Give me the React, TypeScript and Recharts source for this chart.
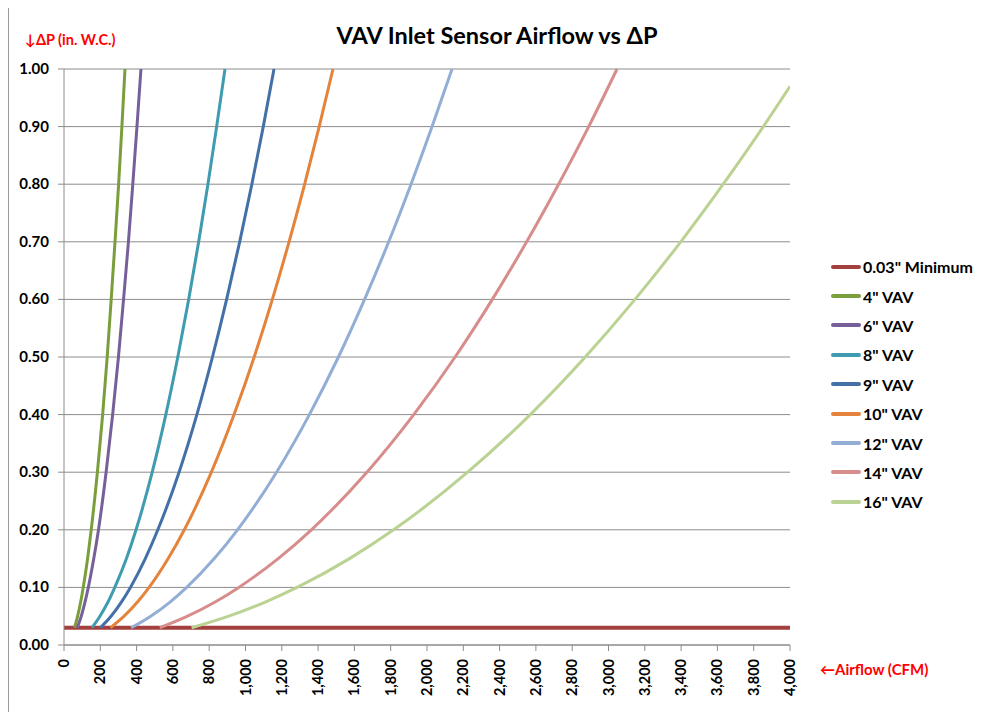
import React from 'react';
import { LineChart, Line, XAxis, YAxis, CartesianGrid } from 'recharts';

const dpLevels = [0.03, 0.05, 0.075, 0.1, 0.15, 0.2, 0.3, 0.4, 0.5, 0.6, 0.7, 0.8, 0.9, 1.0];
const dpLevels16 = [0.03, 0.05, 0.075, 0.1, 0.15, 0.2, 0.3, 0.4, 0.5, 0.6, 0.7, 0.8, 0.9, 0.97];

// airflow (CFM) at each pressure level
const cfm4 = [58, 75, 92, 106, 130, 150, 184, 213, 238, 260, 281, 301, 319, 336];
const cfm6 = [73, 95, 116, 134, 164, 190, 232, 268, 300, 328, 355, 379, 402, 424];
const cfm8 = [154, 198, 243, 280, 344, 397, 486, 561, 627, 687, 742, 793, 841, 887];
const cfm9 = [200, 259, 317, 366, 448, 517, 634, 732, 818, 896, 968, 1035, 1098, 1157];
const cfm10 = [257, 331, 406, 469, 574, 663, 812, 937, 1048, 1148, 1240, 1326, 1406, 1482];
const cfm12 = [370, 478, 586, 676, 828, 956, 1171, 1352, 1512, 1656, 1789, 1912, 2028, 2138];
const cfm14 = [528, 681, 835, 963, 1180, 1363, 1669, 1927, 2155, 2360, 2549, 2725, 2891, 3047];
const cfm16 = [703, 908, 1112, 1284, 1573, 1816, 2224, 2569, 2872, 3146, 3398, 3632, 3853, 4000];

const minimumCfm = [0, 4000];
const minimumDp = [0.03, 0.03];

const xTicks = [0, 200, 400, 600, 800, 1000, 1200, 1400, 1600, 1800, 2000, 2200, 2400, 2600, 2800, 3000, 3200, 3400, 3600, 3800, 4000];
const yTicks = [0, 0.1, 0.2, 0.3, 0.4, 0.5, 0.6, 0.7, 0.8, 0.9, 1.0];

const toPoints = (cfm: number[], dp: number[]) => cfm.map((c, i) => ({ cfm: c, dp: dp[i] }));

const series = [
  { name: '0.03" Minimum', color: '#A3403D', data: toPoints(minimumCfm, minimumDp), width: 4 },
  { name: '4" VAV', color: '#7A9E3C', data: toPoints(cfm4, dpLevels), width: 3 },
  { name: '6" VAV', color: '#77609A', data: toPoints(cfm6, dpLevels), width: 3 },
  { name: '8" VAV', color: '#3F9BB0', data: toPoints(cfm8, dpLevels), width: 3 },
  { name: '9" VAV', color: '#4470A8', data: toPoints(cfm9, dpLevels), width: 3 },
  { name: '10" VAV', color: '#E4843C', data: toPoints(cfm10, dpLevels), width: 3 },
  { name: '12" VAV', color: '#93AED5', data: toPoints(cfm12, dpLevels), width: 3 },
  { name: '14" VAV', color: '#D78D8C', data: toPoints(cfm14, dpLevels), width: 3 },
  { name: '16" VAV', color: '#BAD393', data: toPoints(cfm16, dpLevels16), width: 3 },
];

const font = 'Lato, "Open Sans", "DejaVu Sans", sans-serif';

const XTick = (props: any) => {
  const { x, y, payload } = props;
  return (
    <text
      x={0}
      y={0}
      transform={`translate(${x},${y + 6}) rotate(-90)`}
      textAnchor="end"
      dy={5}
      fontFamily={font}
      fontWeight="bold"
      fontSize={14.5}
      fill="#000"
    >
      {payload.value.toLocaleString('en-US')}
    </text>
  );
};

const YTick = (props: any) => {
  const { x, y, payload } = props;
  return (
    <text x={x - 7} y={y} dy={5} textAnchor="end" fontFamily={font} fontWeight="bold" fontSize={15} fill="#000">
      {payload.value.toFixed(2)}
    </text>
  );
};

const App: React.FC = () => {
  return (
    <div
      style={{
        position: 'relative',
        width: 973,
        height: 704,
        marginTop: -1,
        borderTop: '1px solid #9a9a9a',
        borderLeft: '1px solid #9a9a9a',
        fontFamily: font,
      }}
    >
      <LineChart width={972} height={702} margin={{ top: 61, right: 191, left: 0, bottom: 5 }}>
        <CartesianGrid vertical={false} stroke="#8c8c8c" />
        <XAxis
          type="number"
          dataKey="cfm"
          domain={[0, 4000]}
          ticks={xTicks}
          interval={0}
          height={60}
          tick={<XTick />}
          tickLine={{ stroke: '#8c8c8c' }}
          axisLine={{ stroke: '#8c8c8c' }}
          allowDataOverflow
        />
        <YAxis
          type="number"
          domain={[0, 1]}
          ticks={yTicks}
          interval={0}
          width={55}
          tick={<YTick />}
          tickLine={{ stroke: '#8c8c8c' }}
          axisLine={{ stroke: '#8c8c8c' }}
        />
        {series.map((s) => (
          <Line
            key={s.name}
            data={s.data}
            dataKey="dp"
            name={s.name}
            type="monotone"
            stroke={s.color}
            strokeWidth={s.width}
            dot={false}
            activeDot={false}
            isAnimationActive={false}
          />
        ))}
      </LineChart>

      <div
        style={{
          position: 'absolute',
          left: 238,
          top: 13,
          width: 500,
          textAlign: 'center',
          fontSize: 23.5,
          fontWeight: 'bold',
          lineHeight: '28px',
          color: '#000',
        }}
      >
        VAV Inlet Sensor Airflow vs ΔP
      </div>
      <div style={{ position: 'absolute', left: 16, top: 23, fontSize: 14.5, fontWeight: 'bold', color: '#ff0000', lineHeight: '18px' }}>
        ↓ΔP (in. W.C.)
      </div>
      <div style={{ position: 'absolute', left: 811, top: 652, fontSize: 15, fontWeight: 'bold', color: '#ff0000', lineHeight: '18px' }}>
        ←Airflow (CFM)
      </div>

      <div style={{ position: 'absolute', left: 822, top: 244 }}>
        {series.map((s) => (
          <div key={s.name} style={{ display: 'flex', alignItems: 'center', height: 29.4 }}>
            <div style={{ width: 30, height: 4, borderRadius: 2, background: s.color, marginRight: 2 }} />
            <span style={{ fontSize: 16, fontWeight: 'bold', color: '#000' }}>{s.name}</span>
          </div>
        ))}
      </div>
    </div>
  );
};

export default App;
